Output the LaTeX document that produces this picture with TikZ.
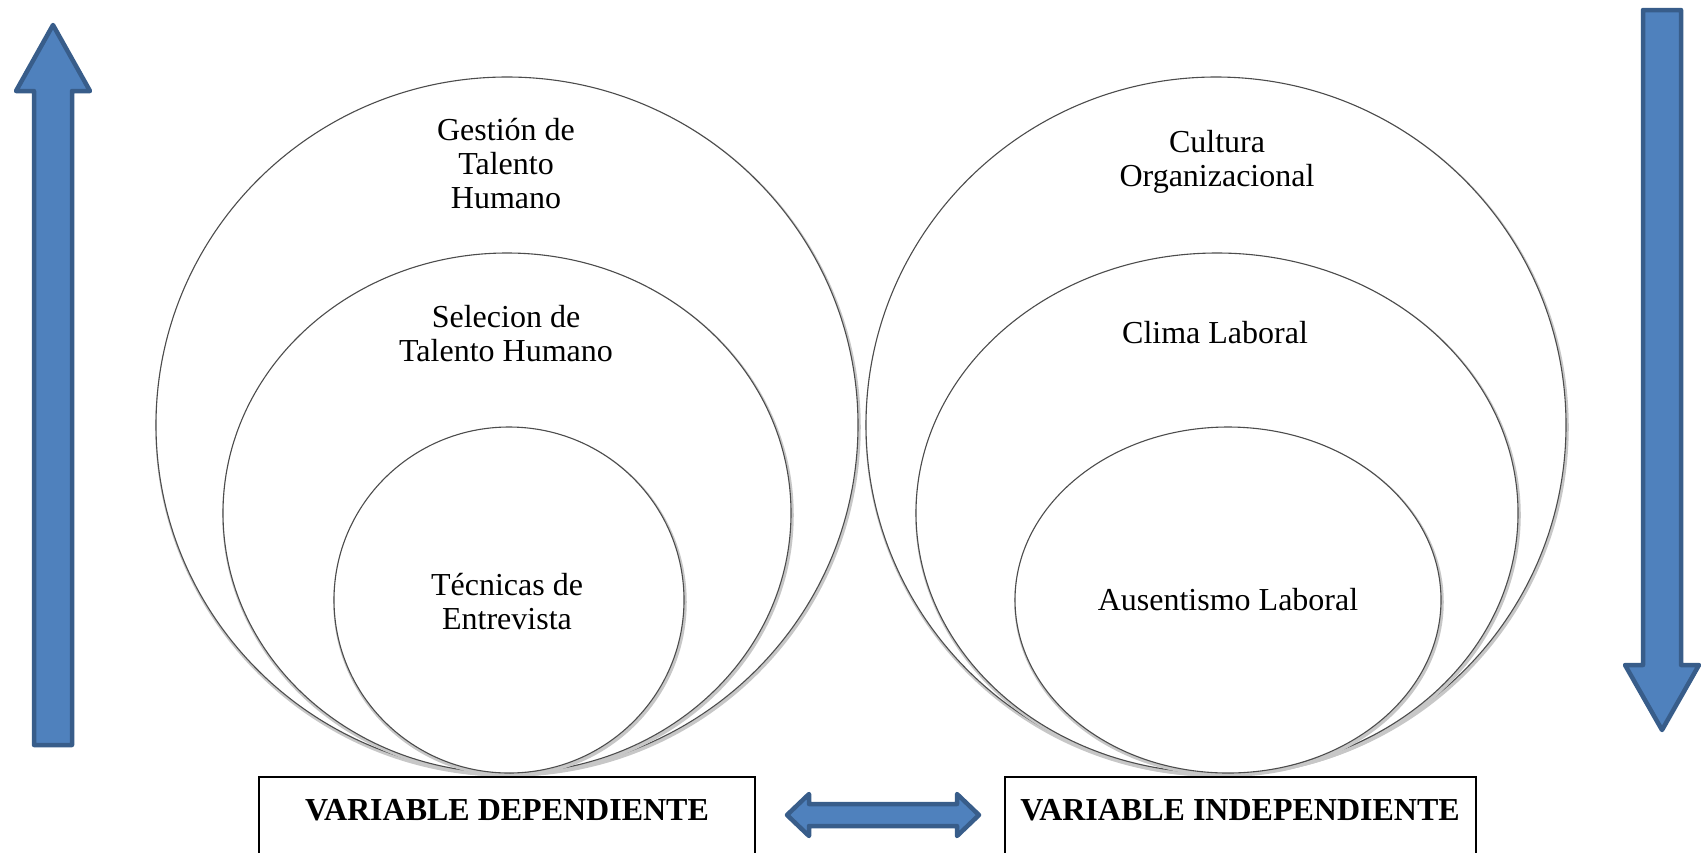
\documentclass[tikz,border=0pt]{standalone}
\usepackage{fontspec}
\setmainfont{Liberation Serif}
\definecolor{arrowfill}{HTML}{4F81BD}
\definecolor{arrowline}{HTML}{385D8A}
\tikzset{
  bluearrow/.style={fill=arrowfill, draw=arrowline, line width=4.5pt, line join=round},
  ring/.style={fill=white, draw=black!70, line width=1.1pt},
  ringshadow/.style={draw=black!22, line width=3.5pt},
  ringtext/.style={align=center, inner sep=0pt, font=\fontsize{32}{34}\selectfont},
  vartext/.style={inner sep=0pt, font=\fontsize{32}{34}\selectfont\bfseries},
  varbox/.style={draw=black, line width=2pt},
}
\begin{document}
\begin{tikzpicture}[x=1pt,y=-1pt]
\useasboundingbox (0,0) rectangle (1704,852);
\clip (0,0) rectangle (1704,852);

% Drawing circles of the dependent variable
\draw [ringshadow] (508,427) ellipse [x radius=351pt, y radius=348pt];%
\draw [ring] (507,425) ellipse [x radius=351pt, y radius=348pt];%
\draw [ringshadow] (508,515) ellipse [x radius=284pt, y radius=260pt];%
\draw [ring] (507,513) ellipse [x radius=284pt, y radius=260pt];%
\draw [ringshadow] (510,602) ellipse [x radius=175pt, y radius=173pt];%
\draw [ring] (509,600) ellipse [x radius=175pt, y radius=173pt];%

% Drawing circles of the independent variable
\draw [ringshadow] (1217,427) ellipse [x radius=350pt, y radius=348pt];%
\draw [ring] (1216,425) ellipse [x radius=350pt, y radius=348pt];%
\draw [ringshadow] (1218,515) ellipse [x radius=301pt, y radius=260pt];%
\draw [ring] (1217,513) ellipse [x radius=301pt, y radius=260pt];%
\draw [ringshadow] (1229,602) ellipse [x radius=213pt, y radius=173pt];%
\draw [ring] (1228,600) ellipse [x radius=213pt, y radius=173pt];%

% Marking circle texts
\node [ringtext] (gestion) at (506,164) {Gestión de\\Talento\\Humano};%
\node [ringtext] (seleccion) at (506,334) {Selecion de\\Talento Humano};%
\node [ringtext] (tecnicas) at (507,602) {Técnicas de\\Entrevista};%
\node [ringtext] (cultura) at (1217,162) {Cultura\\Organizacional};%
\node [ringtext] (clima) at (1215,333) {Clima Laboral};%
\node [ringtext] (ausentismo) at (1228,600) {Ausentismo Laboral};%

% Drawing variable boxes
\draw [varbox] (259,777) rectangle (755,880);%
\draw [varbox] (1005,777) rectangle (1476,880);%
\node [vartext] (dependiente) at (507,810) {VARIABLE DEPENDIENTE};%
\node [vartext] (independiente) at (1240,810) {VARIABLE INDEPENDIENTE};%

% Drawing arrow up
\draw [bluearrow] (53,25) -- (90,91) -- (72,91) -- (72,745) -- (34,745) -- (34,91) -- (16,91) -- cycle;%

% Drawing arrow down
\draw [bluearrow] (1643,10) -- (1681,10) -- (1681,665) -- (1699,665) -- (1662,730) -- (1625,665) -- (1643,665) -- cycle;%

% Drawing double arrow
\draw [bluearrow] (787,815) -- (809,794) -- (809,804) -- (957,804) -- (957,794) -- (979,815)
  -- (957,836) -- (957,826) -- (809,826) -- (809,836) -- cycle;%
\end{tikzpicture}
\end{document}
